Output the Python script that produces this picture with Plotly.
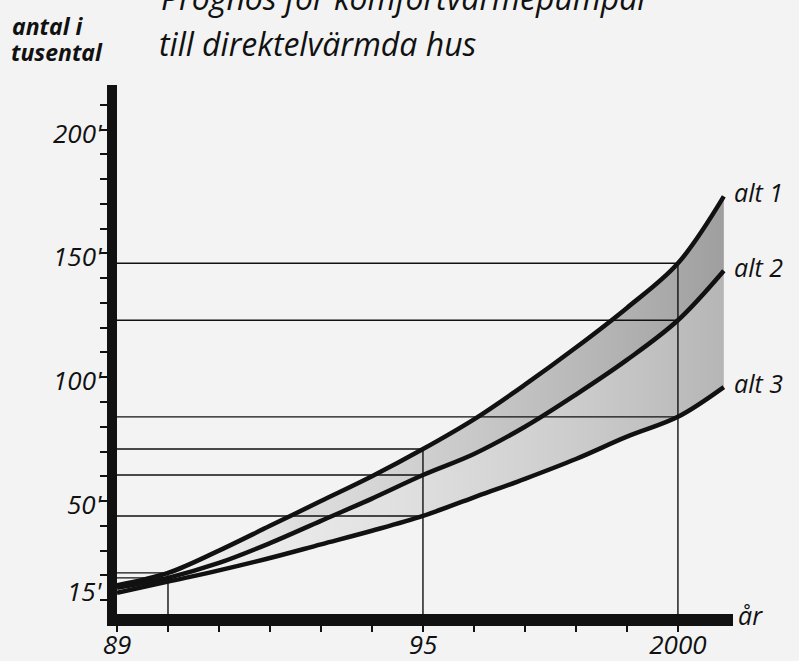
import plotly.graph_objects as go

# ---- data ----
years = [1989, 1990, 1991, 1992, 1993, 1994, 1995, 1996, 1997, 1998, 1999, 2000, 2000.9]
alt1 = [16, 21, 30, 40, 50, 60, 71, 83, 97, 112, 128, 146, 173]
alt2 = [15, 19, 25, 33, 42, 51, 60.5, 69, 80, 93, 107, 123, 143]
alt3 = [13, 17.5, 22, 27, 32.5, 38, 44, 51.5, 59, 67, 76, 84, 96]
series_names = ["alt 1", "alt 2", "alt 3"]

x_ticks = list(range(1990, 2001))
x_labels = {1995: "95", 2000: "2000"}
y_ticks = list(range(10, 220, 10))
y_labels = [15, 50, 100, 150, 200]
guide_years = [1990, 1995, 2000]

FONT = "Open Sans"
INK = "#111111"
BG = "#f3f3f3"

fig = go.Figure()

# shaded bands between the alternatives
fig.add_trace(go.Scatter(x=years, y=alt3, mode="lines", line=dict(width=0, shape="spline"),
                         showlegend=False, hoverinfo="skip"))
fig.add_trace(go.Scatter(x=years, y=alt2, mode="lines", line=dict(width=0, shape="spline"),
                         fill="tonexty",
                         fillgradient=dict(type="horizontal",
                                           colorscale=[[0, "rgba(243,243,243,0)"], [0.3, "rgba(200,200,200,0.25)"],
                                                       [1, "rgba(120,120,120,0.5)"]]),
                         showlegend=False, hoverinfo="skip"))
fig.add_trace(go.Scatter(x=years, y=alt1, mode="lines", line=dict(width=0, shape="spline"),
                         fill="tonexty",
                         fillgradient=dict(type="horizontal",
                                           colorscale=[[0, "rgba(243,243,243,0)"], [0.3, "rgba(170,170,170,0.3)"],
                                                       [1, "rgba(90,90,90,0.55)"]]),
                         showlegend=False, hoverinfo="skip"))

# guide lines (thin)
idx = {y: years.index(y) for y in guide_years}
for gy in guide_years:
    i = idx[gy]
    top = alt1[i]
    fig.add_trace(go.Scatter(x=[gy, gy], y=[0, top], mode="lines",
                             line=dict(color=INK, width=1.4), showlegend=False, hoverinfo="skip"))
    for s in (alt1, alt2, alt3):
        if gy == 1990 and s is alt3:
            continue
        fig.add_trace(go.Scatter(x=[years[0], gy], y=[s[i], s[i]], mode="lines",
                                 line=dict(color=INK, width=1.4), showlegend=False, hoverinfo="skip"))

# the three curves
for name, s in zip(series_names, (alt1, alt2, alt3)):
    fig.add_trace(go.Scatter(x=years, y=s, mode="lines", name=name,
                             line=dict(color=INK, width=4.5, shape="spline"), showlegend=False))
    fig.add_annotation(x=years[-1], y=s[-1], text=f"<i>{name}</i>", showarrow=False,
                       xanchor="left", yanchor="middle", xshift=8, yshift=4,
                       font=dict(family=FONT, size=25, color=INK))

# y tick labels
for v in y_labels:
    fig.add_annotation(x=0, xref="paper", y=v, yref="y", text=f"<i>{v}'</i>", showarrow=False,
                       xanchor="right", yanchor="middle", xshift=-12, yshift=-3,
                       font=dict(family=FONT, size=26, color=INK))

# axis title and headings
fig.add_annotation(x=1.005, xref="paper", y=0, yref="paper", text="<i>år</i>", showarrow=False,
                   xanchor="left", yanchor="middle", yshift=-1,
                   font=dict(family=FONT, size=25, color=INK))
fig.add_annotation(x=-0.173, xref="paper", y=1.112, yref="paper",
                   text="<b><i>antal i</i></b>", showarrow=False,
                   xanchor="left", yanchor="middle",
                   font=dict(family=FONT, size=23, color=INK))
fig.add_annotation(x=-0.176, xref="paper", y=1.062, yref="paper",
                   text="<b><i>tusental</i></b>", showarrow=False,
                   xanchor="left", yanchor="middle",
                   font=dict(family=FONT, size=23, color=INK))
fig.add_annotation(x=0.065, xref="paper", y=1.078, yref="paper",
                   text="<i>till direktelvärmda hus</i>", showarrow=False,
                   xanchor="left", yanchor="middle",
                   font=dict(family=FONT, size=32, color=INK))
fig.add_annotation(x=0.068, xref="paper", y=1.166, yref="paper",
                   text="<i>Prognos för komfortvärmepumpar</i>", showarrow=False,
                   xanchor="left", yanchor="middle",
                   font=dict(family=FONT, size=32, color=INK))

fig.update_xaxes(range=[1989, 2001.08], showgrid=False, zeroline=False, automargin=False,
                 showline=True, linecolor=INK, linewidth=12,
                 tickmode="array", tickvals=[1989] + x_ticks,
                 ticktext=["<i>89</i>"] + [f"<i>{x_labels.get(t, '')}</i>" for t in x_ticks],
                 ticks="outside", ticklen=6, tickwidth=1.5, tickcolor=INK,
                 ticklabelstandoff=-9,
                 tickfont=dict(family=FONT, size=26, color=INK))
fig.update_yaxes(range=[4.4, 218], showgrid=False, zeroline=False, automargin=False,
                 showline=True, linecolor=INK, linewidth=10,
                 tickmode="array", tickvals=y_ticks, showticklabels=False,
                 ticks="outside", ticklen=7, tickwidth=1.5, tickcolor=INK)

fig.update_layout(width=799, height=661, paper_bgcolor=BG, plot_bgcolor=BG,
                  margin=dict(l=117, r=66, t=85, b=47), showlegend=False)

fig.write_html("out.html", config={"displayModeBar": False},
               post_script="document.body.style.margin='0';document.body.style.overflow='hidden';")
